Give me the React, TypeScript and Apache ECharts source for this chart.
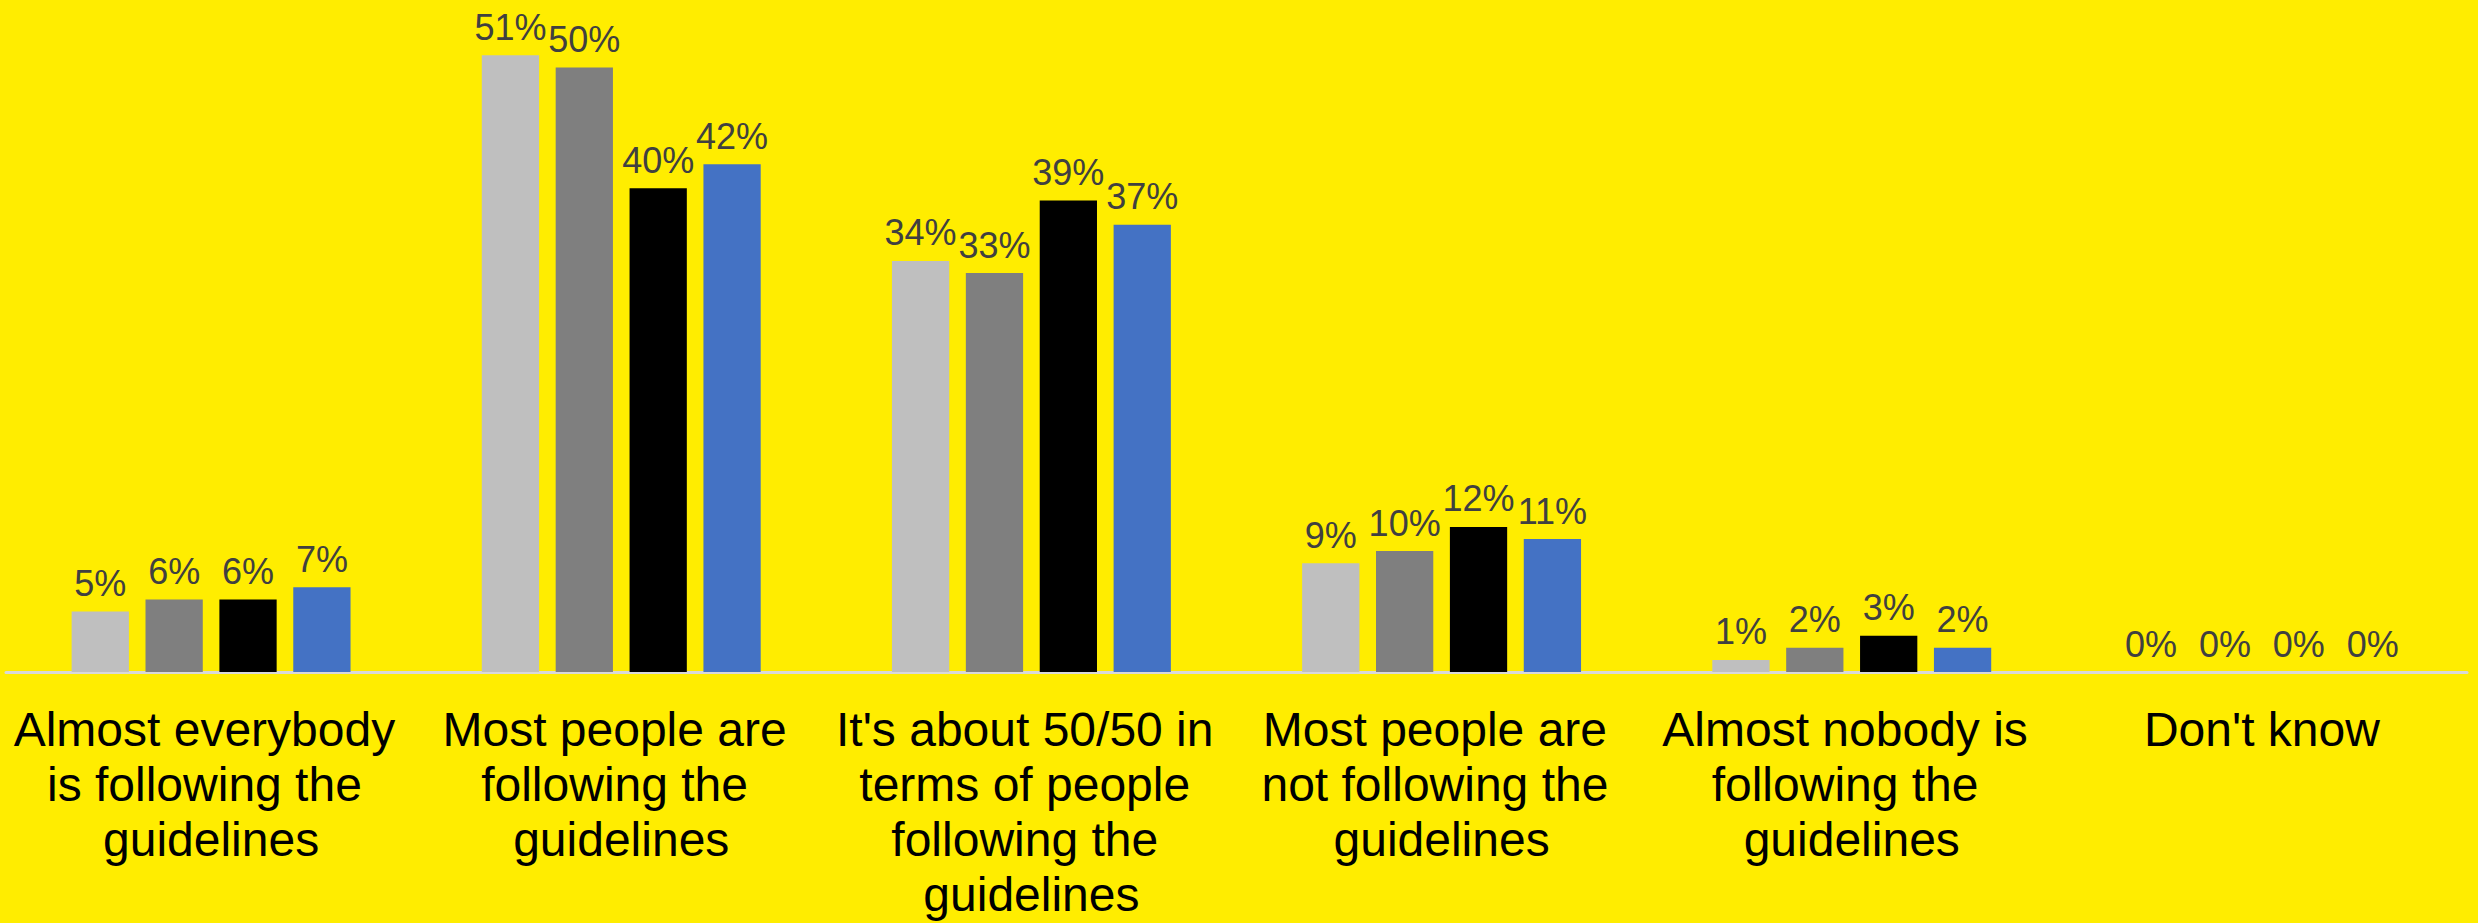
import React, { useEffect, useRef } from "react";
import * as echarts from "echarts";

const categories = [
  "Almost everybody is following the guidelines",
  "Most people are following the guidelines",
  "It's about 50/50 in terms of people following the guidelines",
  "Most people are not following the guidelines",
  "Almost nobody is following the guidelines",
  "Don't know",
];

const seriesNames = ["Series 1", "Series 2", "Series 3", "Series 4"];
const series1 = [5, 51, 34, 9, 1, 0];
const series2 = [6, 50, 33, 10, 2, 0];
const series3 = [6, 40, 39, 12, 3, 0];
const series4 = [7, 42, 37, 11, 2, 0];
const seriesData = [series1, series2, series3, series4];
const colors = ["#BFBFBF", "#7F7F7F", "#000000", "#4472C4"];

const FONT = "Arial, 'Liberation Sans', sans-serif";

export default function App() {
  const ref = useRef<HTMLDivElement>(null);
  useEffect(() => {
    if (!ref.current) return;
    const chart = echarts.init(ref.current, undefined, { renderer: "svg" });
    chart.setOption({
      animation: false,
      backgroundColor: "#FFED00",
      grid: { left: 6, right: 11, top: 7, bottom: 251, containLabel: false },
      xAxis: {
        type: "category",
        data: categories,
        axisLine: { show: true, lineStyle: { color: "#D9D9D9", width: 3 } },
        axisTick: { show: false },
        axisLabel: {
          interval: 0,
          width: 400,
          overflow: "break",
          fontFamily: FONT,
          fontSize: 48,
          lineHeight: 55,
          color: "#000000",
          margin: 30,
        },
      },
      yAxis: {
        type: "value",
        min: 0,
        max: 55,
        show: false,
        splitLine: { show: false },
      },
      series: seriesData.map((d, i) => ({
        name: seriesNames[i],
        type: "bar",
        data: d,
        barGap: "29%",
        barCategoryGap: "32%",
        itemStyle: { color: colors[i] },
        label: {
          show: true,
          position: "top",
          distance: 10,
          formatter: "{c}%",
          fontFamily: FONT,
          fontSize: 36,
          color: "#404040",
        },
      })),
    });
    return () => chart.dispose();
  }, []);
  return (
    <div
      ref={ref}
      style={{ position: "fixed", left: 0, top: 0, width: 2478, height: 923 }}
    />
  );
}
